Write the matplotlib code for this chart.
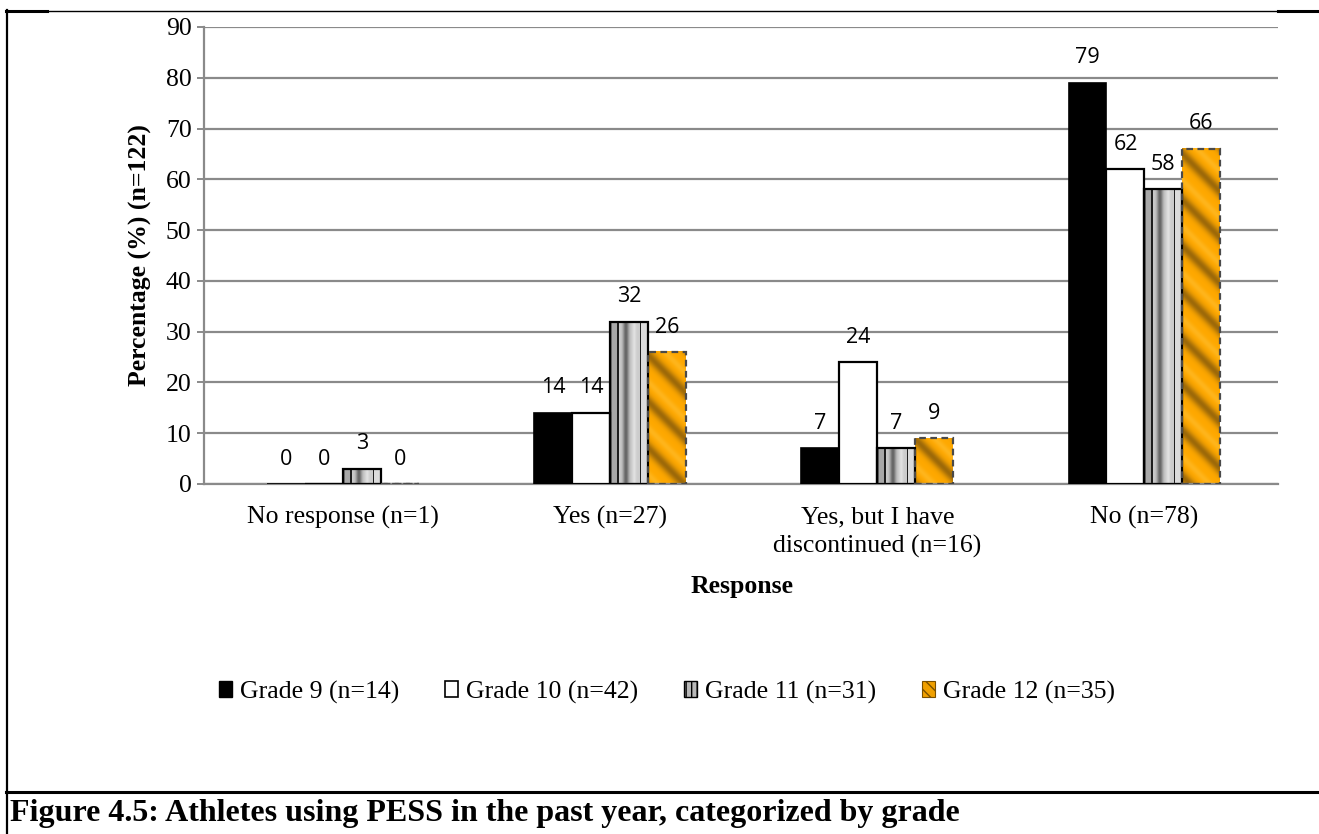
import numpy as np
import matplotlib
matplotlib.use("Agg")
import matplotlib.pyplot as plt
from matplotlib.lines import Line2D
from matplotlib.patches import Patch

# ---------------- data ----------------
categories = ["No response (n=1)", "Yes (n=27)",
              "Yes, but I have\ndiscontinued (n=16)", "No (n=78)"]
series_names = ["Grade 9 (n=14)", "Grade 10 (n=42)", "Grade 11 (n=31)", "Grade 12 (n=35)"]
grade9 = [0, 14, 7, 79]
grade10 = [0, 14, 24, 62]
grade11 = [3, 32, 7, 58]
grade12 = [0, 26, 9, 66]
yticks = [0, 10, 20, 30, 40, 50, 60, 70, 80, 90]
ylabel = "Percentage (%) (n=122)"
xlabel = "Response"
caption = "Figure 4.5: Athletes using PESS in the past year, categorized by grade"

series = [grade9, grade10, grade11, grade12]

# ---------------- figure ----------------
W, H = 1319, 834
fig = plt.figure(figsize=(W / 100, H / 100), dpi=100)
fig.patch.set_facecolor("white")

def fx(px):
    return px / W

def fy(py):
    return 1 - py / H

ax_l, ax_r, ax_t, ax_b = 204, 1278, 27, 484
ax = fig.add_axes([fx(ax_l), fy(ax_b), fx(ax_r - ax_l), (ax_b - ax_t) / H])

SERIF = ["Liberation Serif", "DejaVu Serif"]
LABELF = ["Open Sans", "DejaVu Sans"]
FS = 18.5

ax.set_xlim(-0.52, 3.5)
ax.set_ylim(0, 90)
ax.set_yticks(yticks)
ax.set_yticklabels([str(t) for t in yticks], fontfamily=SERIF, fontsize=FS)
ax.yaxis.grid(True, color="#8a8a8a", linewidth=1.6)
ax.set_axisbelow(True)
for s in ["top", "right"]:
    ax.spines[s].set_visible(False)
for s in ["left", "bottom"]:
    ax.spines[s].set_color("#8a8a8a")
    ax.spines[s].set_linewidth(1.6)
ax.tick_params(axis="y", length=5, color="#8a8a8a", width=1.4, pad=4)
ax.tick_params(axis="x", length=0, pad=16)

x = np.arange(len(categories))
ax.set_xticks(x)
ax.set_xticklabels(categories, fontfamily=SERIF, fontsize=FS, linespacing=1.35)

bw = 0.142
offsets = [-1.5, -0.5, 0.5, 1.5]

# patterns
def g11_pattern(ncols):
    u = (np.arange(ncols) + 0.5) / ncols
    g = np.empty(ncols)
    for i, v in enumerate(u):
        if v < 0.06:
            g[i] = 0.45
        elif v < 0.19:
            g[i] = 0.66
        elif v < 0.23:
            g[i] = 0.12
        elif v < 0.78:
            g[i] = 0.80 - 0.40 * np.exp(-((v - 0.42) / 0.08) ** 2) + 0.08 * np.exp(-((v - 0.64) / 0.05) ** 2)
        elif v < 0.82:
            g[i] = 0.12
        else:
            g[i] = 0.86
    return g

orange = np.array([1.0, 0.66, 0.0])
brown = np.array([0.55, 0.37, 0.04])
light = np.array([1.0, 0.76, 0.22])

fig.canvas.draw()
trans = ax.transData

for si, (vals, off) in enumerate(zip(series, offsets)):
    xs = x + off * bw
    if si == 0:
        ax.bar(xs, vals, bw, color="black", edgecolor="black", linewidth=1.2, zorder=3)
    elif si == 1:
        ax.bar(xs, vals, bw, color="white", edgecolor="black", linewidth=1.6, zorder=3)
    elif si == 2:
        for xc, v in zip(xs, vals):
            if v <= 0:
                continue
            x0, x1 = xc - bw / 2, xc + bw / 2
            p0 = trans.transform((x0, 0))
            p1 = trans.transform((x1, v))
            ncols = max(int(round(p1[0] - p0[0])), 4)
            g = g11_pattern(ncols)
            img = np.tile(np.stack([g, g, g], axis=-1)[None, :, :], (2, 1, 1))
            ax.imshow(img, extent=(x0, x1, 0, v), aspect="auto", interpolation="bilinear", zorder=2)
        ax.bar(xs, vals, bw, facecolor="none", edgecolor="black", linewidth=1.6, zorder=3)
    else:
        for xc, v in zip(xs, vals):
            if v <= 0:
                continue
            x0, x1 = xc - bw / 2, xc + bw / 2
            p0 = trans.transform((x0, 0))
            p1 = trans.transform((x1, v))
            ncols = max(int(round(p1[0] - p0[0])), 4)
            nrows = max(int(round(p1[1] - p0[1])), 4)
            jj, ii = np.meshgrid(np.arange(ncols), np.arange(nrows))
            px = p0[0] + jj
            py = (H - p1[1]) + ii
            t = ((px - py) % 46) / 46.0
            dark = 0.85 * np.exp(-((t - 0.35) / 0.16) ** 2)
            hi = np.exp(-((t - 0.78) / 0.10) ** 2)
            img = orange[None, None, :] * (1 - dark[..., None]) + brown[None, None, :] * dark[..., None]
            img = img * (1 - 0.5 * hi[..., None]) + light[None, None, :] * 0.5 * hi[..., None]
            ax.imshow(np.clip(img, 0, 1), extent=(x0, x1, 0, v), aspect="auto",
                      interpolation="bilinear", zorder=2)
        ax.bar(xs, vals, bw, facecolor="none", edgecolor="#4a4a4a", linewidth=1.6,
               linestyle=(0, (3, 2)), zorder=3)

    for xc, v in zip(xs, vals):
        ax.annotate(str(v), (xc, v), xytext=(0, 14), textcoords="offset points",
                    ha="center", va="baseline", fontfamily=LABELF, fontsize=15.5, color="black",
                    zorder=5, annotation_clip=False)

ax.set_xlim(-0.52, 3.5)
ax.set_ylim(0, 90)

# axis titles
fig.text(fx(742), fy(587), xlabel, ha="center", va="center", fontfamily=SERIF,
         fontsize=FS, fontweight="bold")
fig.text(fx(140), fy(255), ylabel, ha="center", va="center", rotation=90,
         fontfamily=SERIF, fontsize=FS, fontweight="bold")

# legend
handles = [
    Patch(facecolor="black", edgecolor="black", linewidth=1.0),
    Patch(facecolor="white", edgecolor="black", linewidth=1.2),
    Patch(facecolor="#b8b8b8", edgecolor="black", linewidth=1.0, hatch="|||"),
    Patch(facecolor="#f0a000", edgecolor="#7a5000", linewidth=0.8, hatch="\\\\\\"),
]
leg = fig.legend(handles, series_names, loc="center", bbox_to_anchor=(fx(667), fy(692)),
                 ncol=4, frameon=False, prop={"family": SERIF, "size": FS},
                 handlelength=0.5, handleheight=0.62, handletextpad=0.3,
                 columnspacing=1.8, borderpad=0)

# caption
fig.text(fx(10), fy(814), caption, ha="left", va="center", fontfamily=SERIF,
         fontsize=23, fontweight="bold")

# page / table borders
def hline(y, x0, x1, lw):
    fig.add_artist(Line2D([fx(x0), fx(x1)], [fy(y), fy(y)], color="black", linewidth=lw,
                          transform=fig.transFigure))

def vline(xp, y0, y1, lw):
    fig.add_artist(Line2D([fx(xp), fx(xp)], [fy(y0), fy(y1)], color="black", linewidth=lw,
                          transform=fig.transFigure))

hline(11, 6, 47, 2.2)
hline(11, 47, 1278, 1.0)
hline(11, 1278, 1319, 2.2)
vline(7, 10, 834, 1.6)
hline(792, 6, 1319, 2.2)

fig.savefig("out.png", dpi=100, facecolor="white")
